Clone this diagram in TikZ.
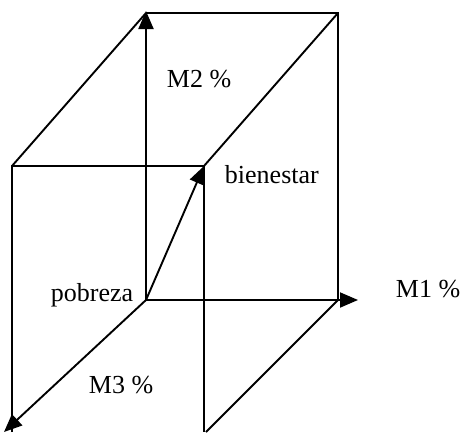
\documentclass[tikz,border=0pt]{standalone}
\usepackage{fontspec}
\setmainfont{Liberation Serif}
\usetikzlibrary{arrows.meta,calc,positioning}

\begin{document}
\begin{tikzpicture}[x=1pt, y=-1pt, line width=1.9pt,
  axis/.style={-{Triangle[length=18pt,width=15pt]}},
  lbl/.style={font=\fontsize{26}{30}\selectfont, inner sep=0pt, anchor=base west}]
\useasboundingbox (0,0) rectangle (464,432);
% Corners of the box
\coordinate (O) at (146,300);
\coordinate (M2tip) at (146,11);
\coordinate (M1tip) at (358,300);
\coordinate (M3tip) at (4,432);
\coordinate (BTL) at (146,13);
\coordinate (BTR) at (338,13);
\coordinate (BBR) at (338,300);
\coordinate (FTL) at (12,166);
\coordinate (FTR) at (204,166);
\coordinate (FBL) at (12,432);
\coordinate (FBR) at (204,432);
\coordinate (FBD) at (206,432);

% Box edges
\draw (BTL) -- (BTR) -- (BBR);
\draw (FTL) -- (BTL);
\draw (FTR) -- (BTR);
\draw (FBL) -- (FTL) -- (FTR) -- (FBR);
\draw (BBR) -- (FBD);

% Axes from the origin
\draw[axis] (O) -- (M2tip);
\draw[axis] (O) -- (M1tip);
\draw[axis] (O) -- (M3tip);
\draw[axis] (O) -- (FTR);

% Labels
\node[lbl] (lblM2) at (166,87) {M2 \%};
\node[lbl] (lblbien) at (224,183) {bienestar};
\node[lbl] (lblpob) at (50,301) {pobreza};
\node[lbl] (lblM1) at (395,297) {M1 \%};
\node[lbl] (lblM3) at (88,393) {M3 \%};
\end{tikzpicture}
\end{document}
